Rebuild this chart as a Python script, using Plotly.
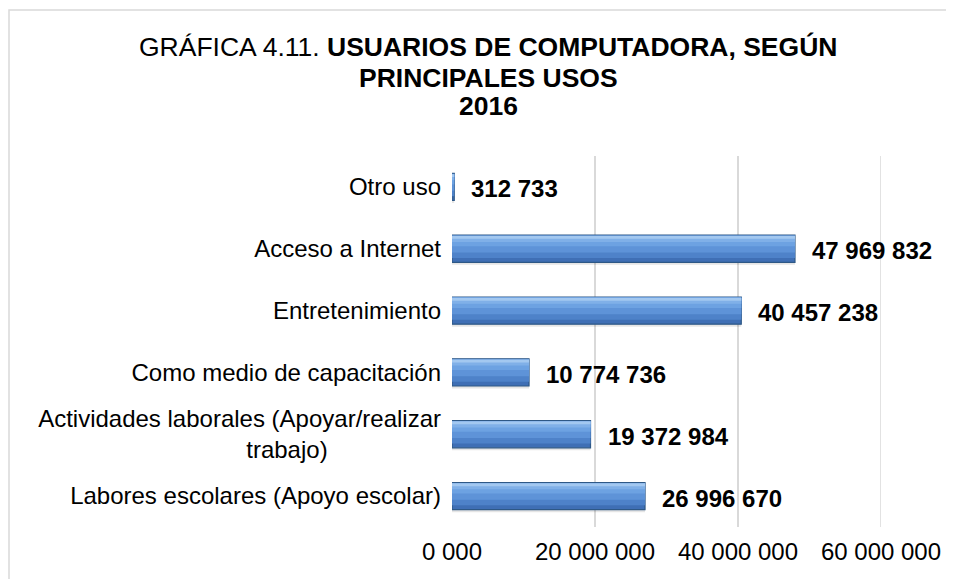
import plotly.graph_objects as go

categories = [
    "Labores escolares (Apoyo escolar)",
    "Actividades laborales (Apoyar/realizar<br>trabajo)" + "\u00a0" * 17,
    "Como medio de capacitación",
    "Entretenimiento",
    "Acceso a Internet",
    "Otro uso",
]
values = [26996670, 19372984, 10774736, 40457238, 47969832, 312733]
value_labels = ["26 996 670", "19 372 984", "10 774 736", "40 457 238", "47 969 832", "312 733"]
tick_values = [0, 20000000, 40000000, 60000000]
tick_labels = ["0 000", "20 000 000", "40 000 000", "60 000 000"]
title_lines = ["GRÁFICA 4.11. <b>USUARIOS DE COMPUTADORA, SEGÚN</b>",
               "<b>PRINCIPALES USOS</b>",
               "<b>2016</b>"]

FONT = "Liberation Sans, Arial, sans-serif"

# figure size (page body adds an 8px margin)
W, H = 946, 571
L, R, T, B = 444, 73, 148, 52
PW, PH = W - L - R, H - T - B

fig = go.Figure()
# faint shadow under each bar
fig.add_trace(go.Bar(
    y=categories, x=values, orientation="h",
    width=0.05, offset=-0.26,
    marker=dict(color="rgba(0,0,0,0.10)", line=dict(width=0)),
    hoverinfo="skip", showlegend=False,
))
fig.add_trace(go.Bar(
    y=categories, x=values, orientation="h",
    width=0.44, offset=-0.22,
    marker=dict(color="#3F6FB5", line=dict(color="#2E5886", width=1.2)),
    hoverinfo="skip", showlegend=False,
))
# soft gradient bands (lighter toward the top of each bar)
for off, w, col in [(-0.15, 0.36, "#4E82C9"), (-0.06, 0.27, "#5E93D8"),
                    (0.04, 0.17, "#6DA2E2"), (0.11, 0.10, "#80B0E8"),
                    (0.16, 0.045, "#A3C8F0")]:
    fig.add_trace(go.Bar(
        y=categories, x=values, orientation="h",
        width=w, offset=off,
        marker=dict(color=col, line=dict(width=0)),
        hoverinfo="skip", showlegend=False,
    ))
fig.update_layout(barmode="overlay")

for c, v, t in zip(categories, values, value_labels):
    fig.add_annotation(x=v, y=c, text="<b>%s</b>" % t, showarrow=False,
                       xanchor="left", xshift=15, yshift=-2,
                       font=dict(family=FONT, size=24, color="#000000"))

# title lines (page y centres 47, 78, 106)
for txt, py in zip(title_lines, [47, 78, 106]):
    fy = py - 8
    fig.add_annotation(xref="paper", yref="paper",
                       x=(488 - 8 - L) / PW, y=(H - B - fy) / PH,
                       text=txt, showarrow=False, xanchor="center", yanchor="middle",
                       font=dict(family=FONT, size=26.5, color="#000000"))

# outer chart border
fig.add_shape(type="rect", xref="paper", yref="paper",
              x0=(1 - L) / PW, x1=(W + 20 - L) / PW,
              y0=(H - B - (H + 20)) / PH, y1=(H - B - 2) / PH,
              line=dict(color="#D9D9D9", width=1.5), fillcolor="rgba(0,0,0,0)", layer="below")
# gridline at the last tick (plotly drops the one on the axis edge)
fig.add_shape(type="line", xref="x", yref="paper",
              x0=tick_values[-1], x1=tick_values[-1], y0=0, y1=1,
              line=dict(color="#D9D9D9", width=1.5), layer="below")

fig.update_layout(
    width=W, height=H,
    margin=dict(l=L, r=R, t=T, b=B, autoexpand=False),
    paper_bgcolor="white", plot_bgcolor="white",
    xaxis=dict(range=[0, 60000000], tickvals=tick_values, ticktext=tick_labels,
               showgrid=True, gridcolor="#D9D9D9", gridwidth=1.5, zeroline=False,
               showline=False, ticks="", ticklabelstandoff=8, automargin=False,
               tickfont=dict(family=FONT, size=24, color="#000000")),
    yaxis=dict(categoryorder="array", categoryarray=categories, showgrid=False,
               showline=False, ticks="", ticklabelstandoff=10, automargin=False,
               tickfont=dict(family=FONT, size=24, color="#000000")),
    font=dict(family=FONT),
)

fig.write_html("out.html")
